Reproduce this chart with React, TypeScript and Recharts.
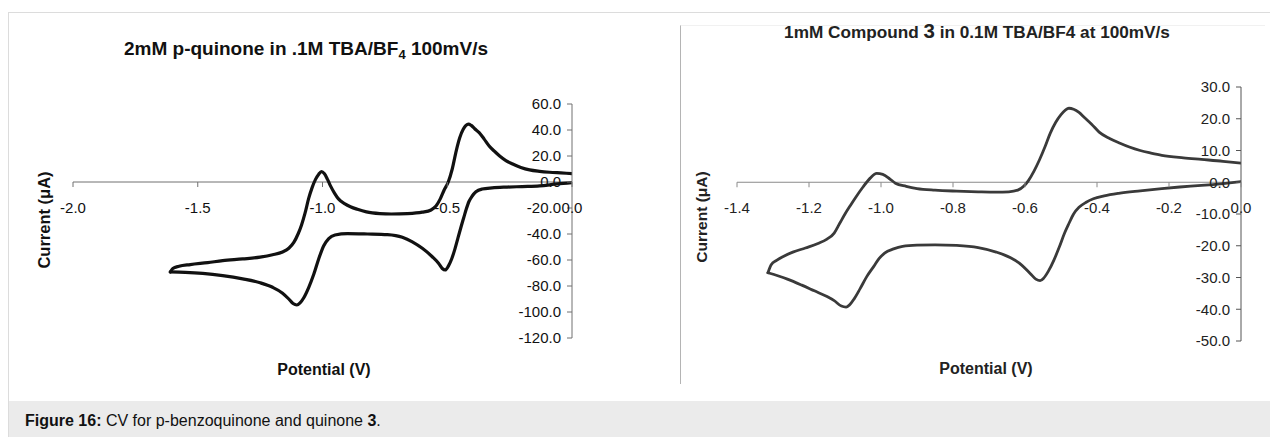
import React from 'react';
import { LineChart, Line, XAxis, YAxis, ReferenceLine } from 'recharts';

// ---------- Left chart: 2mM p-quinone ----------
// cathodic sweep (0 V -> -1.61 V)
const leftCathodicPotential = [
  0.0, -0.06, -0.13, -0.2, -0.26, -0.32, -0.36, -0.385, -0.4, -0.413, -0.424, -0.434, -0.444, -0.457,
  -0.47, -0.482, -0.495, -0.508, -0.52, -0.535, -0.56, -0.6, -0.64, -0.68, -0.74, -0.82, -0.9, -0.95,
  -0.975, -0.995, -1.015, -1.035, -1.055, -1.075, -1.09, -1.103, -1.118, -1.135, -1.16, -1.2, -1.25,
  -1.32, -1.4, -1.48, -1.55, -1.61,
];
const leftCathodicCurrent = [
  -0.5, -1.5, -3.0, -3.5, -3.9, -4.5, -5.4, -7.5, -10.8, -15, -21, -27.5, -34, -43,
  -52, -59, -64.5, -67.7, -66.5, -62.5, -57.5, -51, -46, -42.5, -40.5, -40, -39.7, -40.8,
  -43.5, -49, -59, -71, -81, -89, -93, -94.6, -93.5, -90, -85.5, -81, -77.5,
  -74.5, -72, -70.3, -69.5, -69.2,
];
// anodic sweep (-1.61 V -> 0 V)
const leftAnodicPotential = [
  -1.61, -1.6, -1.575, -1.53, -1.46, -1.4, -1.32, -1.25, -1.2, -1.16, -1.135, -1.115, -1.098, -1.084, -1.07,
  -1.056, -1.042, -1.028, -1.015, -1.004, -0.993, -0.98, -0.968, -0.952, -0.936, -0.91, -0.888, -0.86,
  -0.824, -0.77, -0.724, -0.66, -0.6, -0.565, -0.545, -0.528, -0.512, -0.496, -0.48, -0.464, -0.45,
  -0.436, -0.425, -0.415, -0.404, -0.39, -0.372, -0.352, -0.332, -0.31, -0.29, -0.265, -0.24, -0.205,
  -0.17, -0.13, -0.09, -0.045, 0.0,
];
const leftAnodicCurrent = [
  -69.2, -66.5, -64.8, -63.5, -62, -60.5, -59.2, -57.8, -56, -53.8, -51, -46.5, -40, -33, -24,
  -13, -4.5, 2, 6, 8, 6.5, 2, -3, -8.5, -13, -16.8, -19, -21,
  -23, -24.3, -24.6, -24.3, -23.2, -21.5, -18.5, -13, -6, 0, 10, 24, 34,
  40.5, 43.5, 44.5, 43.5, 41, 38, 33, 27.7, 23.5, 20, 16.5, 14, 11.2,
  9.3, 8.2, 7.5, 7, 6.5,
];
const leftXTicks = [-2, -1.5, -1, -0.5, 0];
const leftYTicks = [-120, -100, -80, -60, -40, -20, 0, 20, 40, 60];

// ---------- Right chart: 1mM Compound 3 ----------
const rightCathodicPotential = [
  0.0, -0.05, -0.11, -0.17, -0.22, -0.28, -0.34, -0.38, -0.41, -0.43, -0.45, -0.465, -0.478, -0.49,
  -0.505, -0.52, -0.535, -0.548, -0.558, -0.57, -0.585, -0.61, -0.64, -0.68, -0.73, -0.79, -0.85, -0.9,
  -0.94, -0.965, -0.99, -1.005, -1.02, -1.04, -1.058, -1.075, -1.088, -1.097, -1.11, -1.13, -1.15,
  -1.185, -1.22, -1.26, -1.314,
];
const rightCathodicCurrent = [
  0.2, -0.4, -1.0, -1.5, -2.0, -2.7, -3.5, -4.3, -5.2, -6.3, -7.9, -10, -13, -16,
  -20.5, -24.6, -28, -30.2, -31, -30.5, -28.8, -26, -23.8, -22, -20.6, -19.9, -19.7, -19.8,
  -20.2, -21, -22.3, -24, -26.5, -29.8, -33.5, -36.8, -38.7, -39.3, -39, -37.3, -36,
  -34.2, -32.4, -30.5, -28.5,
];
const rightAnodicPotential = [
  -1.314, -1.305, -1.29, -1.27, -1.245, -1.21, -1.175, -1.15, -1.13, -1.115, -1.1, -1.085, -1.07, -1.05, -1.03,
  -1.012, -0.995, -0.975, -0.96, -0.93, -0.9, -0.85, -0.79, -0.73, -0.68, -0.645, -0.62, -0.603, -0.59,
  -0.575, -0.56, -0.545, -0.53, -0.515, -0.5, -0.488, -0.478, -0.465, -0.45, -0.435, -0.415, -0.394,
  -0.365, -0.336, -0.31, -0.28, -0.25, -0.22, -0.16, -0.11, -0.05, 0.0,
];
const rightAnodicCurrent = [
  -28.5, -26, -24.6, -23.3, -22, -20.7, -19.3, -17.9, -16, -13, -10, -7.3, -4.7, -1.5, 1.3,
  2.8, 2.5, 1, -0.3, -1.3, -2.0, -2.5, -2.8, -3.0, -3.1, -3.0, -2.5, -1.2, 0.6,
  3.5, 7, 11, 15.4, 18.8, 21.3, 22.7, 23.3, 23, 22, 20.4, 18.3, 15.8,
  13.8, 12.3, 11.1, 10.0, 9.2, 8.5, 7.7, 7.2, 6.6, 6.0,
];
const rightXTicks = [-1.4, -1.2, -1.0, -0.8, -0.6, -0.4, -0.2, 0];
const rightYTicks = [-50, -40, -30, -20, -10, 0, 10, 20, 30];

type Pt = { v: number; i: number };
const toRows = (pot: number[], cur: number[]): Pt[] =>
  pot.map((v, k) => ({ v, i: cur[k] })).sort((a, b) => a.v - b.v);

const leftBranches = [
  toRows(leftCathodicPotential, leftCathodicCurrent),
  toRows(leftAnodicPotential, leftAnodicCurrent),
];
const rightBranches = [
  toRows(rightCathodicPotential, rightCathodicCurrent),
  toRows(rightAnodicPotential, rightAnodicCurrent),
];

const FONT = "'Liberation Sans', Arial, Helvetica, sans-serif";
const X_AXIS_H = 30;
const fmt = (n: number) => (Math.abs(n) < 1e-9 ? 0 : n).toFixed(1);

type Margin = { top: number; left: number; right: number; bottom: number };

function CVChart(props: {
  left: number; top: number; width: number; height: number; margin: Margin;
  branches: Pt[][]; xDomain: [number, number]; yDomain: [number, number];
  xTicks: number[]; yTicks: number[]; stroke: string; strokeWidth: number;
  axisColor: string; xAxisColor: string; textColor: string;
}) {
  const { left, top, width, height, margin, branches, xDomain, yDomain, xTicks, yTicks, stroke, strokeWidth, axisColor, xAxisColor, textColor } = props;
  const plotH = height - margin.top - margin.bottom - X_AXIS_H;
  const zeroY = margin.top + (plotH * yDomain[1]) / (yDomain[1] - yDomain[0]);
  const renderXTick = (p: any) => {
    const x = p.x;
    return (
      <g>
        <line x1={x} x2={x} y1={zeroY} y2={zeroY + 5} stroke={xAxisColor} strokeWidth={1} />
        <text x={x} y={zeroY + 31} textAnchor="middle" fontSize={15} fontFamily={FONT} fill={textColor}>
          {fmt(p.payload.value)}
        </text>
      </g>
    );
  };
  return (
    <div style={{ position: 'absolute', left, top }}>
      <LineChart width={width} height={height} margin={margin}>
        <XAxis
          type="number"
          dataKey="v"
          domain={xDomain}
          ticks={xTicks}
          interval={0}
          allowDataOverflow
          axisLine={false}
          tickLine={false}
          tickSize={0}
          tickMargin={0}
          height={X_AXIS_H}
          tick={renderXTick}
        />
        <YAxis
          type="number"
          orientation="right"
          mirror
          domain={yDomain}
          ticks={yTicks}
          interval={0}
          allowDataOverflow
          width={60}
          tickSize={5}
          tickMargin={6}
          tickFormatter={fmt}
          axisLine={{ stroke: axisColor, strokeWidth: 1 }}
          tickLine={{ stroke: axisColor, strokeWidth: 1 }}
          tick={{ fill: textColor, fontSize: 15, fontFamily: FONT }}
        />
        <ReferenceLine y={0} stroke={xAxisColor} strokeWidth={1} />
        {branches.map((b, k) => (
          <Line
            key={k}
            data={b}
            type="monotoneX"
            dataKey="i"
            stroke={stroke}
            strokeWidth={strokeWidth}
            strokeLinejoin="round"
            strokeLinecap="round"
            dot={false}
            activeDot={false}
            isAnimationActive={false}
          />
        ))}
      </LineChart>
    </div>
  );
}

const abs = (s: React.CSSProperties): React.CSSProperties => ({ position: 'absolute', ...s });

export default function App() {
  return (
    <div style={abs({ left: 0, top: 0, width: 1270, height: 437, background: '#fff', overflow: 'hidden', fontFamily: FONT })}>
      {/* outer frame */}
      <div style={abs({ left: 8, top: 12, width: 1262, height: 425, borderTop: '1px solid #dcdcdc', borderLeft: '1px solid #dcdcdc', boxSizing: 'border-box' })} />
      {/* right panel frame */}
      <div style={abs({ left: 680, top: 25, width: 585, height: 359, borderLeft: '1px solid #b4b4b4', borderTop: '1px solid #f1f1f1', boxSizing: 'border-box' })} />

      <CVChart
        left={0} top={0} width={640} height={400}
        margin={{ top: 104, left: 73, right: 68, bottom: 400 - 338 - X_AXIS_H }}
        branches={leftBranches} xDomain={[-2, 0]} yDomain={[-120, 60]}
        xTicks={leftXTicks} yTicks={leftYTicks}
        stroke="#111" strokeWidth={3.2}
        axisColor="#707070" xAxisColor="#707070" textColor="#111"
      />
      <CVChart
        left={640} top={0} width={630} height={400}
        margin={{ top: 87, left: 97, right: 29, bottom: 400 - 341 - X_AXIS_H }}
        branches={rightBranches} xDomain={[-1.4, 0]} yDomain={[-50, 30]}
        xTicks={rightXTicks} yTicks={rightYTicks}
        stroke="#3a3a3a" strokeWidth={2.8}
        axisColor="#555" xAxisColor="#8a8a8a" textColor="#222"
      />

      {/* left chart texts */}
      <div style={abs({ left: 306, top: 50, transform: 'translate(-50%, -50%)', whiteSpace: 'nowrap', fontWeight: 'bold', fontSize: 19, lineHeight: 1, color: '#111' })}>
        2mM p-quinone in .1M TBA/BF<sub style={{ fontSize: 13, verticalAlign: '-4px' }}>4</sub> 100mV/s
      </div>
      <div style={abs({ left: 44, top: 220, transform: 'translate(-50%, -50%) rotate(-90deg)', whiteSpace: 'nowrap', fontWeight: 'bold', fontSize: 16.5, lineHeight: 1, color: '#111' })}>
        Current (μA)
      </div>
      <div style={abs({ left: 324, top: 370, transform: 'translate(-50%, -50%)', whiteSpace: 'nowrap', fontWeight: 'bold', fontSize: 16, lineHeight: 1, color: '#111' })}>
        Potential (V)
      </div>

      {/* right chart texts */}
      <div style={abs({ left: 977, top: 31, transform: 'translate(-50%, -50%)', whiteSpace: 'nowrap', fontWeight: 'bold', fontSize: 17.2, lineHeight: 1, color: '#222' })}>
        1mM Compound <span style={{ fontSize: 20.5 }}>3</span> in 0.1M TBA/BF4 at 100mV/s
      </div>
      <div style={abs({ left: 702, top: 217, transform: 'translate(-50%, -50%) rotate(-90deg)', whiteSpace: 'nowrap', fontWeight: 'bold', fontSize: 15.5, lineHeight: 1, color: '#222' })}>
        Current (μA)
      </div>
      <div style={abs({ left: 986, top: 369, transform: 'translate(-50%, -50%)', whiteSpace: 'nowrap', fontWeight: 'bold', fontSize: 16, lineHeight: 1, color: '#222' })}>
        Potential (V)
      </div>

      {/* caption band */}
      <div style={abs({ left: 9, top: 401, width: 1261, height: 36, background: '#ebebeb' })} />
      <div style={abs({ left: 25, top: 401, height: 40, lineHeight: '40px', fontSize: 16, color: '#111', whiteSpace: 'nowrap' })}>
        <b>Figure 16:</b> CV for p-benzoquinone and quinone <b>3</b>.
      </div>
    </div>
  );
}
